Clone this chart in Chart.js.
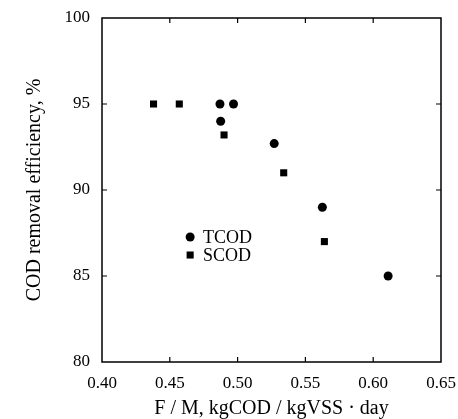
<!DOCTYPE html>
<html>
<head>
<meta charset="utf-8">
<script src="https://cdn.jsdelivr.net/npm/chart.js@4/dist/chart.umd.min.js"></script>
<style>
    html, body { margin: 0; padding: 0; background: #fff; }
    #wrap { width: 458px; height: 419px; }
</style>
</head>
<body>
<div id="wrap"><canvas id="chart" width="458" height="419"></canvas></div>
<script>
// data
const tcodX = [0.487, 0.497, 0.4875, 0.527, 0.5625, 0.611];
const tcodY = [95, 95, 94, 92.7, 89, 85];
const scodX = [0.438, 0.457, 0.490, 0.534, 0.564];
const scodY = [95, 95, 93.2, 91, 87];
const seriesNames = ['TCOD', 'SCOD'];
const xTicks = [0.40, 0.45, 0.50, 0.55, 0.60, 0.65];
const yTicks = [80, 85, 90, 95, 100];

const serif = '"Liberation Serif", "DejaVu Serif", serif';

function toPoints(xs, ys) {
    return xs.map((x, i) => ({ x: x, y: ys[i] }));
}

// box around plot + inward tick marks on all four sides
const framePlugin = {
    id: 'frame',
    afterDraw(chart) {
        const { ctx, chartArea: a, scales } = chart;
        ctx.save();
        ctx.strokeStyle = '#000';
        ctx.lineWidth = 1.5;
        ctx.strokeRect(a.left, a.top, a.right - a.left, a.bottom - a.top);
        ctx.lineWidth = 1.2;
        const len = 5;
        ctx.beginPath();
        xTicks.slice(1, -1).forEach(v => {
            const px = scales.x.getPixelForValue(v);
            ctx.moveTo(px, a.bottom); ctx.lineTo(px, a.bottom - len);
            ctx.moveTo(px, a.top); ctx.lineTo(px, a.top + len);
        });
        yTicks.slice(1, -1).forEach(v => {
            const py = scales.y.getPixelForValue(v);
            ctx.moveTo(a.left, py); ctx.lineTo(a.left + len, py);
            ctx.moveTo(a.right, py); ctx.lineTo(a.right - len, py);
        });
        ctx.stroke();
        ctx.restore();
    }
};

// legend sits inside the plot, anchored in data units
const legendAt = { x: 0.465, y: 87.27, dy: 1.05, textX: 0.4745 };
const insideLegend = {
    id: 'insideLegend',
    afterDraw(chart) {
        const { ctx, scales } = chart;
        ctx.save();
        ctx.font = '18px ' + serif;
        ctx.textBaseline = 'middle';
        ctx.fillStyle = '#000';
        chart.data.datasets.forEach((ds, i) => {
            const px = scales.x.getPixelForValue(legendAt.x);
            const py = scales.y.getPixelForValue(legendAt.y - i * legendAt.dy);
            Chart.helpers.drawPoint(ctx, {
                pointStyle: ds.pointStyle,
                radius: ds.pointRadius,
                borderWidth: 0
            }, px, py);
            ctx.fillText(ds.label, scales.x.getPixelForValue(legendAt.textX), py + 1);
        });
        ctx.restore();
    }
};

new Chart(document.getElementById('chart'), {
    type: 'scatter',
    data: {
        datasets: [{
            label: seriesNames[0],
            data: toPoints(tcodX, tcodY),
            pointStyle: 'circle',
            pointRadius: 4.5,
            backgroundColor: '#000',
            borderColor: '#000',
            borderWidth: 0
        }, {
            label: seriesNames[1],
            data: toPoints(scodX, scodY),
            pointStyle: 'rect',
            pointRadius: 5,
            backgroundColor: '#000',
            borderColor: '#000',
            borderWidth: 0
        }]
    },
    options: {
        responsive: false,
        animation: false,
        layout: { padding: { top: 18, right: 17, left: 0, bottom: 0 } },
        plugins: {
            legend: { display: false },
            tooltip: { enabled: false }
        },
        scales: {
            x: {
                type: 'linear',
                min: xTicks[0],
                max: xTicks[xTicks.length - 1],
                afterBuildTicks: s => { s.ticks = xTicks.map(v => ({ value: v })); },
                afterFit: s => {
                    s.height = 57;
                    s.paddingLeft = 0;
                    s.paddingRight = 0;
                },
                grid: { display: false, drawTicks: false },
                border: { display: false },
                ticks: {
                    color: '#000',
                    padding: 11,
                    maxRotation: 0,
                    font: { family: serif, size: 17 },
                    callback: v => v.toFixed(2)
                },
                title: {
                    display: true,
                    text: 'F / M, kgCOD / kgVSS · day',
                    color: '#000',
                    padding: { top: 0, bottom: 0 },
                    font: { family: serif, size: 20, lineHeight: 1 }
                }
            },
            y: {
                type: 'linear',
                min: yTicks[0],
                max: yTicks[yTicks.length - 1],
                afterBuildTicks: s => { s.ticks = yTicks.map(v => ({ value: v })); },
                afterFit: s => {
                    s.width = 102;
                    s.paddingTop = 0;
                    s.paddingBottom = 0;
                },
                grid: { display: false, drawTicks: false },
                border: { display: false },
                ticks: {
                    color: '#000',
                    padding: 12,
                    font: { family: serif, size: 17 }
                },
                title: {
                    display: true,
                    text: 'COD removal efficiency, %',
                    color: '#000',
                    padding: { top: 23, bottom: 0 },
                    font: { family: serif, size: 20 }
                }
            }
        }
    },
    plugins: [framePlugin, insideLegend]
});
</script>
</body>
</html>
